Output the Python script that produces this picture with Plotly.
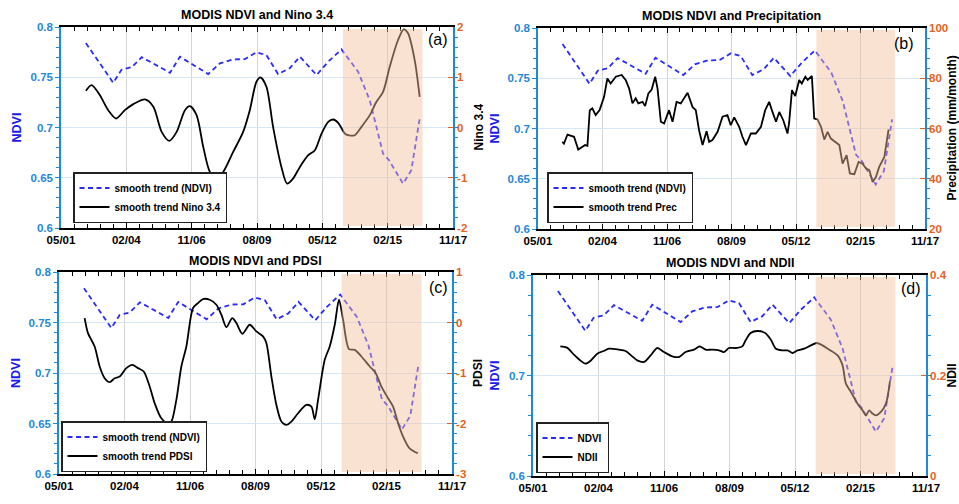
import plotly.graph_objects as go

# ---------------- data (decimal years) ----------------
ndvi_t = [2002.38, 2003.53, 2003.88, 2004.31, 2004.73, 2005.92, 2006.34, 2007.53, 2008.02,
          2008.58, 2009.07, 2009.56, 2009.98, 2010.47, 2010.96, 2011.39, 2012.09, 2012.58,
          2013.14, 2013.84, 2014.33, 2014.89, 2015.14, 2015.73, 2016.08, 2016.43]
ndvi_v = [0.784, 0.7445, 0.7575, 0.760, 0.770, 0.7545, 0.7704, 0.7532, 0.7638,
          0.7678, 0.768, 0.7748, 0.772, 0.7532, 0.759, 0.7704, 0.7522, 0.7655,
          0.7777, 0.7555, 0.727, 0.674, 0.6675, 0.6442, 0.6575, 0.709]

nino_t = [2002.38, 2002.62, 2002.97, 2003.32, 2003.65, 2004.02, 2004.38, 2004.87, 2005.22,
          2005.57, 2005.89, 2006.20, 2006.55, 2006.76, 2007.04, 2007.32, 2007.60, 2007.88,
          2008.16, 2008.58, 2009.00, 2009.28, 2009.56, 2009.73, 2009.98, 2010.26, 2010.61,
          2010.85, 2011.10, 2011.39, 2011.74, 2012.02, 2012.30, 2012.58, 2012.79, 2013.00,
          2013.28, 2013.42, 2013.70, 2013.98, 2014.33, 2014.61, 2014.89, 2015.17, 2015.52,
          2015.76, 2015.94, 2016.22, 2016.43]
nino_v = [0.731, 0.844, 0.644, 0.345, 0.179, 0.345, 0.465, 0.558, 0.412,
          -0.087, -0.266, -0.087, 0.345, 0.425, 0.246, -0.386, -0.884, -1.017,
          -0.884, -0.485, -0.087, 0.345, 0.910, 0.997, 0.811, 0.013, -0.784,
          -1.117, -1.017, -0.784, -0.552, -0.452, -0.120, 0.113, 0.159, 0.093,
          -0.120, -0.153, -0.153, 0.013, 0.246, 0.511, 0.711, 1.209, 1.741,
          1.953, 1.874, 1.342, 0.611]

prec_t = [2002.37, 2002.44, 2002.59, 2002.73, 2002.87, 2002.94, 2003.05, 2003.23, 2003.34,
          2003.44, 2003.54, 2003.65, 2003.79, 2003.96, 2004.15, 2004.29, 2004.43, 2004.65,
          2004.90, 2005.07, 2005.22, 2005.36, 2005.50, 2005.61, 2005.79, 2005.90, 2006.04,
          2006.18, 2006.33, 2006.43, 2006.57, 2006.71, 2006.92, 2007.07, 2007.24, 2007.42,
          2007.71, 2007.92, 2008.06, 2008.20, 2008.35, 2008.52, 2008.63, 2008.77, 2008.99,
          2009.20, 2009.41, 2009.55, 2009.70, 2009.91, 2010.05, 2010.20, 2010.41, 2010.62,
          2010.84, 2011.02, 2011.19, 2011.33, 2011.48, 2011.62, 2011.79, 2011.97, 2012.04,
          2012.16, 2012.30, 2012.47, 2012.58, 2012.73, 2012.83, 2013.01, 2013.11, 2013.25,
          2013.40, 2013.54, 2013.68, 2013.82, 2014.01, 2014.18, 2014.32, 2014.49, 2014.63,
          2014.82, 2015.00, 2015.17, 2015.32, 2015.46, 2015.60, 2015.74, 2015.88, 2016.10,
          2016.28]
prec_v = [54.7, 54.0, 57.6, 57.3, 56.7, 54.7, 51.6, 52.7, 53.4,
          53.1, 67.3, 68.0, 65.3, 67.3, 72.6, 79.9, 77.9, 80.6,
          81.3, 79.3, 75.9, 70.0, 72.0, 70.0, 70.6, 68.9, 74.0,
          75.5, 80.6, 75.9, 62.7, 62.0, 67.3, 62.7, 70.6, 70.0,
          74.2, 68.6, 67.3, 59.3, 53.4, 58.9, 54.7, 55.4, 58.7,
          64.7, 65.3, 61.3, 64.4, 60.7, 56.7, 53.4, 58.0, 58.0,
          60.7, 67.3, 70.6, 66.6, 62.7, 66.6, 63.3, 58.0, 62.3,
          75.3, 72.9, 79.3, 77.9, 80.6, 79.3, 80.9, 64.0, 63.6,
          60.7, 55.6, 58.7, 56.0, 54.7, 53.4, 46.0, 49.4, 42.1,
          41.8, 46.7, 46.0, 44.1, 43.4, 38.7, 40.7, 44.7, 48.7,
          59.6]

pdsi_t = [2002.41, 2002.55, 2002.83, 2003.04, 2003.25, 2003.46, 2003.67, 2003.88, 2004.16,
          2004.41, 2004.65, 2004.89, 2005.14, 2005.35, 2005.63, 2005.91, 2006.05, 2006.26,
          2006.47, 2006.68, 2006.96, 2007.17, 2007.38, 2007.66, 2007.94, 2008.15, 2008.36,
          2008.61, 2008.78, 2009.03, 2009.34, 2009.62, 2009.90, 2010.04, 2010.25, 2010.46,
          2010.67, 2010.88, 2011.09, 2011.37, 2011.72, 2011.93, 2012.07, 2012.21, 2012.49,
          2012.70, 2012.91, 2013.09, 2013.26, 2013.51, 2013.75, 2014.03, 2014.38, 2014.63,
          2014.87, 2015.15, 2015.36, 2015.57, 2015.78, 2016.05, 2016.40]
pdsi_v = [0.088, -0.210, -0.474, -0.871, -1.103, -1.182, -1.103, -1.070, -0.904,
          -0.838, -0.904, -0.970, -1.268, -1.599, -1.896, -1.995, -1.962, -1.532,
          -0.871, -0.474, 0.286, 0.385, 0.464, 0.451, 0.352, 0.154, -0.091,
          0.088, -0.012, -0.223, -0.045, -0.177, -0.276, -0.408, -1.070, -1.632,
          -1.962, -2.028, -1.962, -1.797, -1.632, -1.665, -1.916, -1.532, -0.739,
          -0.474, -0.045, 0.451, 0.054, -0.527, -0.541, -0.673, -0.871, -1.003,
          -1.268, -1.499, -1.665, -1.995, -2.260, -2.491, -2.590]

ndii_t = [2002.48, 2002.76, 2003.04, 2003.32, 2003.53, 2003.74, 2004.03, 2004.30, 2004.52,
          2004.94, 2005.22, 2005.50, 2005.71, 2005.99, 2006.27, 2006.55, 2006.83, 2007.18,
          2007.46, 2007.74, 2008.09, 2008.33, 2008.58, 2008.86, 2009.14, 2009.35, 2009.56,
          2009.84, 2010.12, 2010.26, 2010.47, 2010.75, 2011.08, 2011.32, 2011.53, 2011.81,
          2012.02, 2012.23, 2012.44, 2012.72, 2013.00, 2013.24, 2013.49, 2013.77, 2014.12,
          2014.33, 2014.47, 2014.68, 2014.96, 2015.17, 2015.31, 2015.45, 2015.56, 2015.73,
          2015.94, 2016.15, 2016.32]
ndii_v = [0.258, 0.2554, 0.242, 0.230, 0.2236, 0.229, 0.2434, 0.2487, 0.2534,
          0.2514, 0.2487, 0.2381, 0.230, 0.2269, 0.240, 0.2547, 0.2467, 0.2381,
          0.2368, 0.2467, 0.2514, 0.258, 0.2514, 0.2514, 0.250, 0.2467, 0.2547,
          0.2547, 0.258, 0.270, 0.2846, 0.2886, 0.2846, 0.2713, 0.2534, 0.250,
          0.250, 0.2448, 0.250, 0.2534, 0.260, 0.2647, 0.260, 0.2514, 0.240,
          0.2202, 0.1837, 0.1672, 0.1439, 0.1307, 0.1207, 0.1307, 0.1254, 0.1207,
          0.1274, 0.1439, 0.189]

shade_period = [2013.2, 2016.55]
x_tickvals = [2001.333, 2004.083, 2006.833, 2009.583, 2012.333, 2015.083, 2017.833]
x_ticktext = ["05/01", "02/04", "11/06", "08/09", "05/12", "02/15", "11/17"]

titles = ["MODIS NDVI and Nino 3.4", "MODIS NDVI and Precipitation",
          "MODIS NDVI and PDSI", "MODIS NDVI and NDII"]
panel_tags = ["(a)", "(b)", "(c)", "(d)"]
right_titles = ["Nino 3.4", "Precipitation (mm/month)", "PDSI", "NDII"]
legend_names = [("smooth trend (NDVI)", "smooth trend Nino 3.4"),
                ("smooth trend (NDVI)", "smooth trend Prec"),
                ("smooth trend (NDVI)", "smooth trend PDSI"),
                ("NDVI", "NDII")]
right_ranges = [[-2, 2], [20, 100], [-3, 1], [0, 0.4]]
right_ticks = [[-2, -1, 0, 1, 2], [20, 40, 60, 80, 100], [-3, -2, -1, 0, 1], [0, 0.2, 0.4]]
right_ticktext = [["-2", "-1", "0", "1", "2"], ["20", "40", "60", "80", "100"],
                  ["-3", "-2", "-1", "0", "1"], ["0", "0.2", "0.4"]]
right_minor = [0.2, 4, 0.2, 0.04]
left_ticks = [[0.6, 0.65, 0.7, 0.75, 0.8]] * 3 + [[0.6, 0.7, 0.8]]
left_minor = [0.01, 0.01, 0.01, 0.02]
series = [(nino_t, nino_v, "spline"), (prec_t, prec_v, "linear"),
          (pdsi_t, pdsi_v, "spline"), (ndii_t, ndii_v, "spline")]

# ---------------- layout geometry (pixels) ----------------
W, H = 959, 504
boxes = [(61, 453, 27, 228), (538, 925, 28, 229), (59, 452, 272, 474), (533, 926, 275, 476)]
legend_pos = [(73, 223), (547, 223), (61, 472), (536, 473)]   # left, bottom
title_y = [15, 16, 261, 263]
tag_pos = [(438, 40), (904, 43), (438, 287), (911, 288)]
left_title_x = [16, 494, 16, 494]
right_title_x = [478, 951, 478, 951]

BLUE_AX = "#1f88d8"
ORANGE = "#e2621f"
NDVI_BLUE = "#2a2aff"
LABEL_BLUE = "#1a1af0"
FONT = "Liberation Sans, Arial, sans-serif"

fig = go.Figure()
layout = dict(width=W, height=H, margin=dict(l=0, r=0, t=0, b=0, autoexpand=False),
              plot_bgcolor="white", paper_bgcolor="white",
              font=dict(family=FONT, size=11, color="black"),
              shapes=[], annotations=[])

def px(x):
    return x / W

def py(y):
    return 1 - y / H

for i in range(4):
    xid = "x" if i == 0 else f"x{i+1}"
    yl = 2 * i + 1
    yr = 2 * i + 2
    ylid = "y" if yl == 1 else f"y{yl}"
    yrid = f"y{yr}"
    x0, x1, ytop, ybot = boxes[i]
    lg = "legend" if i == 0 else f"legend{i+1}"

    fig.add_trace(go.Scatter(x=ndvi_t, y=ndvi_v, mode="lines", name=legend_names[i][0],
                             line=dict(color=NDVI_BLUE, width=1.8, dash="5px,3.5px"),
                             xaxis=xid, yaxis=ylid, legend=lg))
    t, v, shp = series[i]
    fig.add_trace(go.Scatter(x=t, y=v, mode="lines", name=legend_names[i][1],
                             line=dict(color="black", width=1.8, shape=shp, smoothing=0.8),
                             xaxis=xid, yaxis=yrid, legend=lg))

    xa = "xaxis" if i == 0 else f"xaxis{i+1}"
    layout[xa] = dict(domain=[px(x0), px(x1)], range=[2001.333, 2017.833], automargin=False,
                      anchor=ylid, tickmode="array", tickvals=x_tickvals, ticktext=x_ticktext,
                      ticks="inside", ticklen=5, tickcolor="black", tickwidth=1.2,
                      showline=True, linecolor="black", linewidth=1.5, mirror="ticks",
                      showgrid=True, gridcolor="#d4d4d4", gridwidth=1, zeroline=False,
                      tickfont=dict(family=FONT, size=11.5, weight="bold", color="black"),
                      minor=dict(tickmode="linear", tick0=2001.333, dtick=0.55, ticks="inside",
                                 ticklen=4, tickcolor="black", showgrid=False))
    yla = "yaxis" if yl == 1 else f"yaxis{yl}"
    layout[yla] = dict(domain=[py(ybot), py(ytop)], range=[0.6, 0.8], anchor=xid,
                       automargin=False,
                       tickmode="array", tickvals=left_ticks[i],
                       ticktext=[f"{v:g}" for v in left_ticks[i]],
                       ticks="outside", ticklen=4, tickcolor=BLUE_AX, tickwidth=1.2,
                       showline=True, linecolor=BLUE_AX, linewidth=1.5,
                       showgrid=True, gridcolor="#d6e8f6", gridwidth=1, zeroline=False,
                       tickfont=dict(family=FONT, size=11.5, weight="bold", color=BLUE_AX),
                       minor=dict(tickmode="linear", tick0=0.6, dtick=left_minor[i],
                                  ticks="outside", ticklen=3, tickcolor=BLUE_AX, showgrid=False))
    layout[f"yaxis{yr}"] = dict(domain=[py(ybot), py(ytop)], range=right_ranges[i],
                                overlaying=ylid, side="right", anchor=xid, automargin=False,
                                tickmode="array", tickvals=right_ticks[i],
                                ticktext=right_ticktext[i],
                                ticks="inside", ticklen=5, tickcolor=ORANGE, tickwidth=1.2,
                                showline=True, linecolor=BLUE_AX, linewidth=1.5,
                                showgrid=False, zeroline=False,
                                tickfont=dict(family=FONT, size=11.5, weight="bold", color=ORANGE),
                                minor=dict(tickmode="linear", tick0=right_ranges[i][0],
                                           dtick=right_minor[i], ticks="outside", ticklen=3,
                                           tickcolor=BLUE_AX, showgrid=False))

    layout["shapes"].append(dict(type="rect", xref=xid, yref=ylid,
                                 x0=shade_period[0], x1=shade_period[1], y0=0.602, y1=0.798,
                                 fillcolor="rgba(245,190,155,0.45)", line=dict(width=0),
                                 layer="above"))

    layout["annotations"] += [
        dict(text=titles[i], x=px((x0 + x1) / 2), y=py(title_y[i]), xref="paper", yref="paper",
             showarrow=False, font=dict(family=FONT, size=12.5, weight="bold", color="black"),
             xanchor="center", yanchor="middle"),
        dict(text=panel_tags[i], x=px(tag_pos[i][0]), y=py(tag_pos[i][1]), xref="paper",
             yref="paper", showarrow=False, font=dict(family=FONT, size=16, color="black"),
             xanchor="center", yanchor="middle"),
        dict(text="NDVI", x=px(left_title_x[i]), y=py((ytop + ybot) / 2),
             xref="paper", yref="paper", showarrow=False, textangle=-90,
             font=dict(family=FONT, size=12.5, weight="bold", color=LABEL_BLUE),
             xanchor="center", yanchor="middle"),
        dict(text=right_titles[i], x=px(right_title_x[i]), y=py((ytop + ybot) / 2),
             xref="paper", yref="paper", showarrow=False, textangle=-90,
             font=dict(family=FONT, size=12, weight="bold", color="black"),
             xanchor="center", yanchor="middle"),
    ]

    lx, ly = legend_pos[i]
    layout[lg] = dict(x=px(lx), y=py(ly), xanchor="left", yanchor="bottom",
                      bgcolor="white", bordercolor="#222222", borderwidth=1.5,
                      font=dict(family=FONT, size=10, weight="bold", color="black"),
                      itemwidth=30, tracegroupgap=0)

layout["showlegend"] = True
fig.update_layout(**layout)
fig.write_html("out.html")
